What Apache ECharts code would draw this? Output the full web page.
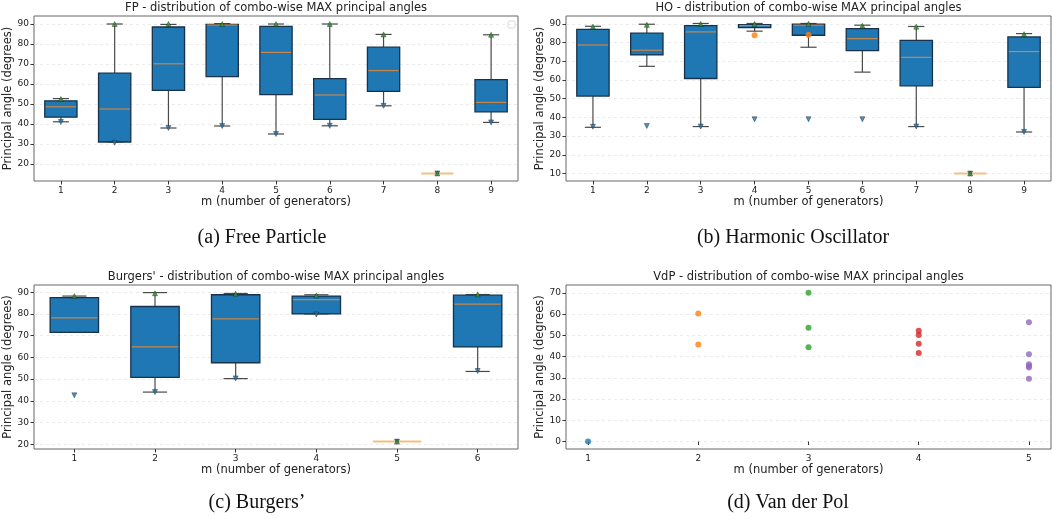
<!DOCTYPE html>
<html>
<head>
<meta charset="utf-8">
<script src="https://cdn.jsdelivr.net/npm/echarts@6/dist/echarts.min.js"></script>
<style>
  html, body { margin: 0; padding: 0; background: #fff; }
  #chart { width: 1052px; height: 519px; }
</style>
</head>
<body>
<div id="chart"></div>
<script>
// FP - Free Particle
const fpCategories = ["1", "2", "3", "4", "5", "6", "7", "8", "9"];
const fpLow = [41.1, 31.0, 38.0, 39.0, 35.0, 39.1, 49.1, 15.3, 40.8];
const fpQ1 = [43.4, 31.0, 56.8, 63.7, 54.7, 42.3, 56.3, 15.3, 46.1];
const fpMedian = [48.6, 47.5, 70.1, 89.5, 75.8, 54.5, 66.7, 15.3, 50.8];
const fpQ3 = [51.6, 65.4, 88.5, 89.8, 88.8, 62.7, 78.4, 15.3, 62.2];
const fpHigh = [52.7, 90.0, 89.8, 90.2, 90.0, 90.0, 84.8, 15.3, 84.6];
const fpMax = [52.5, 90.0, 90.0, 90.0, 90.0, 90.0, 84.8, 15.3, 84.6];
const fpMin = [41.0, 30.6, 38.0, 39.0, 35.0, 39.1, 49.1, 15.3, 40.8];

// HO - Harmonic Oscillator
const hoCategories = ["1", "2", "3", "4", "5", "6", "7", "8", "9"];
const hoLow = [34.7, 67.3, 35.1, 86.1, 77.5, 64.2, 35.1, 10.0, 32.2];
const hoQ1 = [51.4, 73.4, 60.8, 88.0, 83.9, 75.7, 56.9, 10.0, 56.0];
const hoMedian = [78.7, 75.9, 85.7, 89.1, 89.3, 82.1, 72.1, 10.0, 75.2];
const hoQ3 = [87.0, 85.0, 89.1, 89.6, 89.8, 87.5, 81.2, 10.0, 83.0];
const hoHigh = [88.7, 89.8, 90.2, 90.2, 90.2, 89.3, 88.6, 10.0, 84.8];
const hoMax = [88.5, 89.5, 90.0, 90.0, 90.0, 89.0, 88.5, 10.0, 84.5];
const hoMin = [35.0, 35.4, 35.1, 39.0, 39.0, 39.0, 35.1, 10.0, 32.2];
const hoExtraCats = [3, 4];
const hoExtra = [83.9, 84.0];

// Burgers'
const buCategories = ["1", "2", "3", "4", "5", "6"];
const buLow = [71.5, 44.0, 50.2, 80.0, 21.2, 53.5];
const buQ1 = [71.5, 50.8, 57.5, 80.0, 21.2, 64.8];
const buMedian = [78.2, 64.8, 77.7, 86.6, 21.2, 84.5];
const buQ3 = [87.5, 83.4, 88.8, 88.2, 21.2, 88.6];
const buHigh = [88.2, 89.8, 89.4, 88.8, 21.2, 88.9];
const buMax = [88.2, 89.5, 89.3, 88.5, 21.2, 89.0];
const buMin = [42.5, 44.0, 50.3, 79.7, 21.2, 53.7];

// VdP - Van der Pol (one list of angles per m)
const vdpM = [1, 2, 3, 4, 5];
const vdpAngles = [
  [0.0],
  [60.4, 45.8],
  [70.2, 53.6, 44.5],
  [52.2, 50.2, 46.1, 41.7],
  [56.3, 41.2, 36.4, 35.6, 34.9, 29.6]
];
const vdpColors = ["#1f77b4", "#ff7f0e", "#2ca02c", "#d62728", "#9467bd"];

const titles = [
  "FP - distribution of combo-wise MAX principal angles",
  "HO - distribution of combo-wise MAX principal angles",
  "Burgers' - distribution of combo-wise MAX principal angles",
  "VdP - distribution of combo-wise MAX principal angles"
];
const captions = ["(a) Free Particle", "(b) Harmonic Oscillator", "(c) Burgers\u2019", "(d) Van der Pol"];

const FONT = "DejaVu Sans";
const TEXT = "#222";

const grids = [
  { left: 34, top: 16, width: 484, height: 165 },
  { left: 566, top: 16, width: 485, height: 165 },
  { left: 34, top: 285, width: 484, height: 164 },
  { left: 566, top: 285, width: 485, height: 164 }
];

const yRanges = [
  { min: 11.5, max: 94, ticks: [20, 30, 40, 50, 60, 70, 80, 90] },
  { min: 6.0, max: 94.2, ticks: [10, 20, 30, 40, 50, 60, 70, 80, 90] },
  { min: 17.8, max: 93.3, ticks: [20, 30, 40, 50, 60, 70, 80, 90] },
  { min: -3.5, max: 73.8, ticks: [0, 10, 20, 30, 40, 50, 60, 70] }
];

const renderBox = (params, api) => {
  const idx = api.value(0);
  const lo = api.coord([idx, api.value(1)]);
  const q1 = api.coord([idx, api.value(2)]);
  const med = api.coord([idx, api.value(3)]);
  const q3 = api.coord([idx, api.value(4)]);
  const hi = api.coord([idx, api.value(5)]);
  const band = api.size([1, 0])[0];
  const half = band * 0.3;
  const cap = band * 0.15;
  const x = med[0];
  const whisker = { stroke: "#4a4a4a", lineWidth: 1.2 };

  // all values equal: matplotlib only shows the (faded) median line
  if (Math.abs(q1[1] - q3[1]) < 0.5) {
    return {
      type: "line",
      shape: { x1: x - half, y1: med[1], x2: x + half, y2: med[1] },
      style: { stroke: "#f6bd86", lineWidth: 2 }
    };
  }
  return {
    type: "group",
    children: [
      { type: "line", shape: { x1: x, y1: lo[1], x2: x, y2: q1[1] }, style: whisker },
      { type: "line", shape: { x1: x, y1: q3[1], x2: x, y2: hi[1] }, style: whisker },
      { type: "line", shape: { x1: x - cap, y1: lo[1], x2: x + cap, y2: lo[1] }, style: whisker },
      { type: "line", shape: { x1: x - cap, y1: hi[1], x2: x + cap, y2: hi[1] }, style: whisker },
      {
        type: "rect",
        shape: { x: x - half, y: q3[1], width: half * 2, height: q1[1] - q3[1] },
        style: { fill: "#1f77b4", stroke: "#17324a", lineWidth: 1.3 }
      },
      {
        type: "line",
        shape: { x1: x - half + 1, y1: med[1], x2: x + half - 1, y2: med[1] },
        style: { stroke: "#c8874a", lineWidth: 1.2 }
      }
    ]
  };
};

const boxSeries = (i, low, q1, median, q3, high) => ({
  type: "custom",
  xAxisIndex: i,
  yAxisIndex: i,
  renderItem: renderBox,
  encode: { x: 0, y: [1, 2, 3, 4, 5] },
  data: low.map((v, k) => [k, v, q1[k], median[k], q3[k], high[k]]),
  z: 2
});

const markerSeries = (i, values, color, rotate) => ({
  type: "scatter",
  xAxisIndex: i,
  yAxisIndex: i,
  symbol: "triangle",
  symbolSize: 5,
  symbolRotate: rotate,
  itemStyle: { color: color, borderColor: "#1a1a1a", borderWidth: 0.5 },
  data: values.map((v, k) => [k, v]),
  z: 5
});

const makeYAxis = (i) => ({
  type: "value",
  gridIndex: i,
  min: yRanges[i].min,
  max: yRanges[i].max,
  name: "Principal angle (degrees)",
  nameLocation: "middle",
  nameGap: i % 2 === 0 ? 16 : 17,
  nameTextStyle: { fontFamily: FONT, fontSize: 11.5, color: TEXT },
  axisLine: { show: false },
  axisTick: { show: true, length: 3.5, customValues: yRanges[i].ticks, lineStyle: { color: "#333" } },
  axisLabel: { customValues: yRanges[i].ticks, fontFamily: FONT, fontSize: 9, color: TEXT, margin: 5 },
  splitLine: { show: true, lineStyle: { color: "#e6e6e6", type: [3, 3], width: 0.8 } }
});

const makeCatAxis = (i, cats) => ({
  type: "category",
  gridIndex: i,
  data: cats,
  boundaryGap: true,
  name: "m (number of generators)",
  nameLocation: "middle",
  nameGap: 12,
  nameTextStyle: { fontFamily: FONT, fontSize: 11.5, color: TEXT },
  axisLine: { show: false },
  axisTick: { show: true, alignWithLabel: true, length: 3.5, lineStyle: { color: "#333" } },
  axisLabel: { fontFamily: FONT, fontSize: 9, color: TEXT, margin: 5 },
  splitLine: { show: false }
});

const vdpXAxis = {
  type: "value",
  gridIndex: 3,
  min: 0.8,
  max: 5.2,
  name: "m (number of generators)",
  nameLocation: "middle",
  nameGap: 12,
  nameTextStyle: { fontFamily: FONT, fontSize: 11.5, color: TEXT },
  axisLine: { show: false },
  axisTick: { show: true, length: 3.5, customValues: vdpM, lineStyle: { color: "#333" } },
  axisLabel: { customValues: vdpM, fontFamily: FONT, fontSize: 9, color: TEXT, margin: 5 },
  splitLine: { show: false }
};

const vdpSeries = vdpM.map((m, k) => ({
  type: "scatter",
  xAxisIndex: 3,
  yAxisIndex: 3,
  symbol: "circle",
  symbolSize: 6,
  itemStyle: { color: vdpColors[k] },
  data: vdpAngles[k].map((v) => [m, v])
}));

const textGraphics = [];
grids.forEach((g, i) => {
  textGraphics.push({
    type: "text",
    x: g.left + g.width / 2,
    y: g.top - 8,
    style: {
      text: titles[i], fontFamily: FONT, fontSize: 11.5, fill: TEXT,
      textAlign: "center", textVerticalAlign: "middle"
    }
  });
});
const captionPos = [[262, 238], [793, 238], [257, 503], [788, 503]];
captions.forEach((c, i) => {
  textGraphics.push({
    type: "text",
    x: captionPos[i][0],
    y: captionPos[i][1],
    style: {
      text: c, fontFamily: "Liberation Serif", fontSize: 20, fill: "#111",
      textAlign: "center", textVerticalAlign: "middle"
    }
  });
});
// empty legend frame in the FP panel
textGraphics.push({
  type: "rect",
  shape: { x: 508, y: 21, width: 7, height: 7, r: 1.5 },
  style: { fill: "#fff", stroke: "#d8d8d8", lineWidth: 1 }
});

const option = {
  animation: false,
  backgroundColor: "#fff",
  grid: grids.map((g) => Object.assign({ show: true, borderColor: "#666", borderWidth: 1, backgroundColor: "transparent" }, g)),
  xAxis: [makeCatAxis(0, fpCategories), makeCatAxis(1, hoCategories), makeCatAxis(2, buCategories), vdpXAxis],
  yAxis: [0, 1, 2, 3].map(makeYAxis),
  series: [
    boxSeries(0, fpLow, fpQ1, fpMedian, fpQ3, fpHigh),
    markerSeries(0, fpMin, "#1f77b4", 180),
    markerSeries(0, fpMax, "#2ca02c", 0),
    boxSeries(1, hoLow, hoQ1, hoMedian, hoQ3, hoHigh),
    {
      type: "scatter", xAxisIndex: 1, yAxisIndex: 1, symbol: "circle", symbolSize: 6,
      itemStyle: { color: "#ff7f0e" }, data: hoExtra.map((v, k) => [hoExtraCats[k], v]), z: 4
    },
    markerSeries(1, hoMin, "#1f77b4", 180),
    markerSeries(1, hoMax, "#2ca02c", 0),
    boxSeries(2, buLow, buQ1, buMedian, buQ3, buHigh),
    markerSeries(2, buMin, "#1f77b4", 180),
    markerSeries(2, buMax, "#2ca02c", 0)
  ].concat(vdpSeries),
  graphic: textGraphics
};

const chart = echarts.init(document.getElementById("chart"));
chart.setOption(option);
</script>
</body>
</html>
